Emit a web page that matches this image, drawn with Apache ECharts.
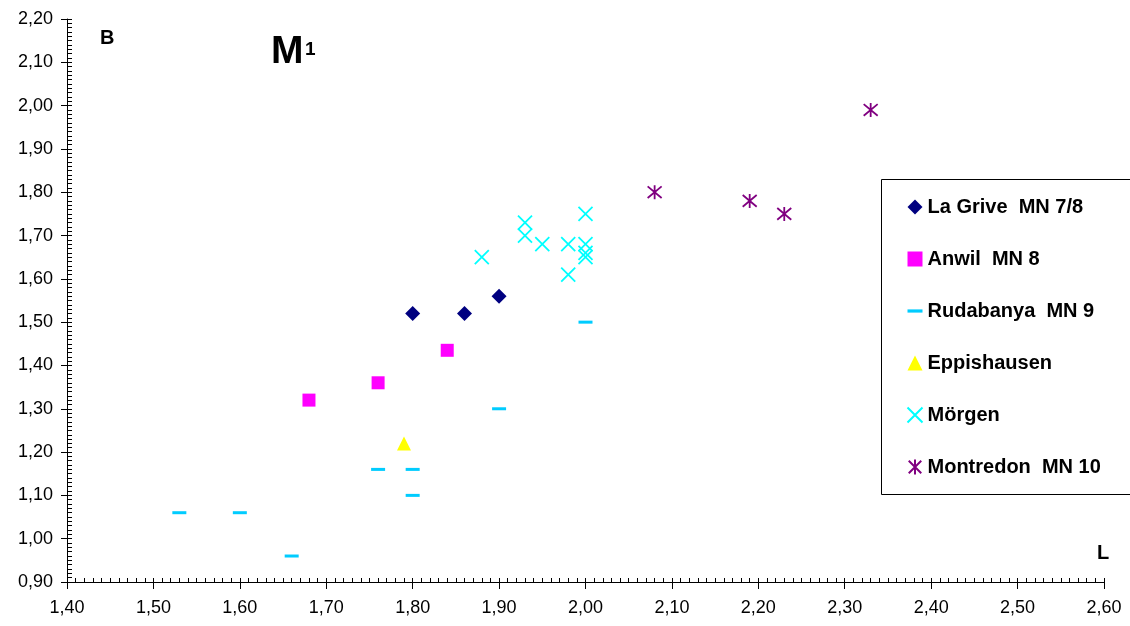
<!DOCTYPE html>
<html>
<head>
<meta charset="utf-8">
<script src="https://cdn.jsdelivr.net/npm/echarts@6/dist/echarts.min.js"></script>
<style>
  html, body { margin: 0; padding: 0; background: #fff; }
  #chart { width: 1130px; height: 626px; }
</style>
</head>
<body>
<div id="chart"></div>
<script>
// values: [L, B]
const laGrive = [[1.80, 1.52], [1.86, 1.52], [1.90, 1.56]]
const anwil = [[1.68, 1.32], [1.76, 1.36], [1.84, 1.435]]
const rudabanya = [
  [1.53, 1.06], [1.60, 1.06], [1.66, 0.96], [1.76, 1.16],
  [1.80, 1.16], [1.80, 1.10], [1.90, 1.30], [2.00, 1.50]
]
const eppishausen = [[1.79, 1.22]]
const morgen = [
  [1.88, 1.65], [1.93, 1.73], [1.93, 1.70], [1.95, 1.68], [1.98, 1.68],
  [1.98, 1.61], [2.00, 1.75], [2.00, 1.68], [2.00, 1.66], [2.00, 1.65]
]
const montredon = [[2.08, 1.80], [2.19, 1.78], [2.23, 1.75], [2.33, 1.99]]

const xMin = 1.40, xMax = 2.60, xStep = 0.10
const yMin = 0.90, yMax = 2.20, yStep = 0.10

const crossPath = 'path://M0,0L10,10M10,0L0,10'
const starPath = 'path://M0,0L10,10M10,0L0,10M5,-1L5,11'
const dashPath = 'path://M0,6H14V9H0Z'

const fmt = v => v.toFixed(2).replace('.', ',')
const labelFont = { color: '#000', fontSize: 18, fontFamily: 'Liberation Sans, Arial' }

// main axes: outward major ticks + labels
// helper axes: inward ticks + minor ticks
const makeX = (main) => ({
  type: 'value', min: xMin, max: xMax, interval: xStep, position: 'bottom',
  axisLine: { show: main, onZero: false, lineStyle: { color: '#000', width: 1 } },
  axisTick: { show: true, inside: !main, length: main ? 7 : 4, lineStyle: { color: '#000' } },
  minorTick: { show: !main, splitNumber: 10, length: 4, lineStyle: { color: '#000' } },
  axisLabel: { show: main, margin: 17, formatter: fmt, ...labelFont },
  splitLine: { show: false }
})
const makeY = (main) => ({
  type: 'value', min: yMin, max: yMax, interval: yStep, position: 'left',
  axisLine: { show: main, onZero: false, lineStyle: { color: '#000', width: 1 } },
  axisTick: { show: true, inside: !main, length: main ? 6 : 5, lineStyle: { color: '#000' } },
  minorTick: { show: !main, splitNumber: 10, length: 5, lineStyle: { color: '#000' } },
  axisLabel: { show: main, margin: 14, formatter: fmt, ...labelFont },
  splitLine: { show: false }
})

const chart = echarts.init(document.getElementById('chart'), null, { renderer: 'canvas' })

chart.setOption({
  backgroundColor: '#fff',
  animation: false,
  grid: { left: 67, right: 26, top: 19, bottom: 44 },
  xAxis: [makeX(true), makeX(false)],
  yAxis: [makeY(true), makeY(false)],
  legend: {
    orient: 'vertical',
    left: 900,
    top: 192,
    itemWidth: 15,
    itemHeight: 15,
    itemGap: 32,
    selectedMode: false,
    textStyle: { color: '#000', fontSize: 20, fontWeight: 'bold', fontFamily: 'Liberation Sans, Arial', lineHeight: 20 },
    data: [
      { name: 'La Grive  MN 7/8', icon: 'diamond' },
      { name: 'Anwil  MN 8', icon: 'rect' },
      { name: 'Rudabanya  MN 9', icon: dashPath },
      { name: 'Eppishausen', icon: 'triangle' },
      { name: 'Mörgen', icon: crossPath },
      { name: 'Montredon  MN 10', icon: starPath }
    ]
  },
  graphic: [
    { type: 'rect', left: 879, top: 177, shape: { width: 250, height: 315 },
      style: { fill: 'none', stroke: '#000', lineWidth: 1 }, z: 0 },
    { type: 'text', left: 100, top: 28,
      style: { text: 'B', font: 'bold 20px Liberation Sans, Arial', fill: '#000' } },
    { type: 'text', left: 271, top: 33,
      style: { text: 'M', font: 'bold 39px Liberation Sans, Arial', fill: '#000' } },
    { type: 'text', left: 305, top: 40,
      style: { text: '1', font: 'bold 19px Liberation Sans, Arial', fill: '#000' } },
    { type: 'text', left: 1097, top: 543,
      style: { text: 'L', font: 'bold 20px Liberation Sans, Arial', fill: '#000' } }
  ],
  series: [
    { name: 'La Grive  MN 7/8', type: 'scatter', data: laGrive, symbol: 'diamond', symbolSize: 15,
      itemStyle: { color: '#000080', opacity: 1 } },
    { name: 'Anwil  MN 8', type: 'scatter', data: anwil, symbol: 'rect', symbolSize: 13,
      itemStyle: { color: '#FF00FF', opacity: 1 } },
    { name: 'Rudabanya  MN 9', type: 'scatter', data: rudabanya, symbol: 'rect', symbolSize: [14, 3],
      itemStyle: { color: '#00CCFF', opacity: 1 } },
    { name: 'Eppishausen', type: 'scatter', data: eppishausen, symbol: 'triangle', symbolSize: 14,
      itemStyle: { color: '#FFFF00', opacity: 1 } },
    { name: 'Mörgen', type: 'scatter', data: morgen, symbol: crossPath, symbolSize: 14,
      itemStyle: { color: 'none', borderColor: '#00FFFF', borderWidth: 1.8, opacity: 1 } },
    { name: 'Montredon  MN 10', type: 'scatter', data: montredon, symbol: starPath, symbolSize: 14,
      itemStyle: { color: 'none', borderColor: '#800080', borderWidth: 1.8, opacity: 1 } }
  ]
})
</script>
</body>
</html>
